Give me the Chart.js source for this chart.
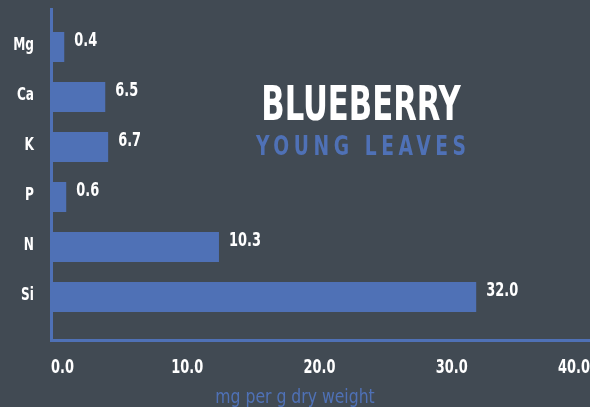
<!DOCTYPE html>
<html>
<head>
<meta charset="utf-8">
<script src="https://cdn.jsdelivr.net/npm/chart.js@4/dist/chart.umd.min.js"></script>
<style>
  html, body { margin: 0; padding: 0; background: #414a53; }
  #wrap { position: relative; width: 590px; height: 407px; overflow: hidden; }
  .t { position: absolute; width: 300px; left: 211px; text-align: center; font-family: 'DejaVu Sans Condensed', 'DejaVu Sans', sans-serif; font-weight: bold; line-height: 1; white-space: nowrap; transform-origin: 50% 50%; }
  #title { top: 79px; font-size: 48px; color: #ffffff; transform: scaleX(0.71); }
  #sub { top: 133px; font-size: 26px; color: #4f71b6; letter-spacing: 5.7px; text-indent: 5.7px; transform: scaleX(0.8); }
</style>
</head>
<body>
<div id="wrap">
  <canvas id="chart" width="590" height="407"></canvas>
  <div class="t" id="title">BLUEBERRY</div>
  <div class="t" id="sub">YOUNG LEAVES</div>
</div>
<script>
const FONT = "'DejaVu Sans Condensed', 'DejaVu Sans', sans-serif";
const BLUE = '#4f71b6';

// nutrient categories, top to bottom
const nutrients = ['Mg', 'Ca', 'K', 'P', 'N', 'Si'];
// bar lengths as drawn against the axis
const barLengths = [0.85, 3.95, 4.17, 1.0, 12.55, 32.0];
// numbers printed next to each bar
const printedValues = ['0.4', '6.5', '6.7', '0.6', '10.3', '32.0'];
const xTicks = [0, 10, 20, 30, 40];
const xTitle = 'mg per g dry weight';

// text squeezed sideways, the picture uses a narrow face
function squeezed(ctx, text, x, y, align, font, color, sx) {
  ctx.save();
  ctx.font = font;
  ctx.fillStyle = color;
  ctx.textBaseline = 'middle';
  ctx.textAlign = align;
  ctx.translate(x, y);
  ctx.scale(sx, 1);
  ctx.fillText(text, 0, 0);
  ctx.restore();
}

// axis lines that run past the plot area
const axisLines = {
  id: 'axisLines',
  beforeDatasetsDraw(chart) {
    const { ctx, chartArea, scales } = chart;
    const x0 = scales.x.getPixelForValue(0) - 1.5;
    const yb = chartArea.bottom + 18.5;
    ctx.save();
    ctx.strokeStyle = BLUE;
    ctx.lineWidth = 3;
    ctx.beginPath();
    ctx.moveTo(x0, 8);
    ctx.lineTo(x0, yb + 1.5);
    ctx.moveTo(x0 - 1.5, yb);
    ctx.lineTo(chart.width, yb);
    ctx.stroke();
    ctx.restore();
  }
};

// tick labels, value labels and axis title
const labelText = {
  id: 'labelText',
  afterDatasetsDraw(chart) {
    const { ctx, chartArea, scales } = chart;
    const meta = chart.getDatasetMeta(0);
    meta.data.forEach((bar, i) => {
      squeezed(ctx, printedValues[i], bar.x + 10, bar.y - 6, 'left', 'bold 20px ' + FONT, '#ffffff', 0.72);
      squeezed(ctx, nutrients[i], 34, bar.y - 2, 'right', 'bold 18px ' + FONT, '#ffffff', 0.75);
    });
    const ty = chartArea.bottom + 46;
    scales.x.ticks.forEach((t, i, arr) => {
      const px = scales.x.getPixelForValue(t.value);
      const txt = t.value.toFixed(1);
      if (i === 0) squeezed(ctx, txt, px - 2, ty, 'left', 'bold 20px ' + FONT, '#ffffff', 0.72);
      else if (i === arr.length - 1) squeezed(ctx, txt, chart.width, ty, 'right', 'bold 20px ' + FONT, '#ffffff', 0.72);
      else squeezed(ctx, txt, px + 2, ty, 'center', 'bold 20px ' + FONT, '#ffffff', 0.72);
    });
    squeezed(ctx, xTitle, chart.width / 2, chartArea.bottom + 76, 'center', '20px ' + FONT, BLUE, 0.87);
  }
};

new Chart(document.getElementById('chart'), {
  type: 'bar',
  data: {
    labels: nutrients,
    datasets: [{
      data: barLengths,
      backgroundColor: BLUE,
      borderWidth: 0,
      categoryPercentage: 1,
      barPercentage: 0.6
    }]
  },
  options: {
    indexAxis: 'y',
    responsive: false,
    animation: false,
    layout: { padding: { top: 22, right: 8, bottom: 85, left: 0 } },
    plugins: { legend: { display: false }, tooltip: { enabled: false } },
    scales: {
      x: {
        min: 0,
        max: 40,
        afterBuildTicks(scale) { scale.ticks = xTicks.map(v => ({ value: v })); },
        afterFit(scale) { scale.height = 0; scale.paddingLeft = 0; scale.paddingRight = 0; },
        grid: { display: false },
        border: { display: false },
        ticks: { display: false }
      },
      y: {
        afterFit(scale) { scale.width = 53; scale.paddingTop = 0; scale.paddingBottom = 0; },
        grid: { display: false },
        border: { display: false },
        ticks: { display: false }
      }
    }
  },
  plugins: [axisLines, labelText]
});
</script>
</body>
</html>
